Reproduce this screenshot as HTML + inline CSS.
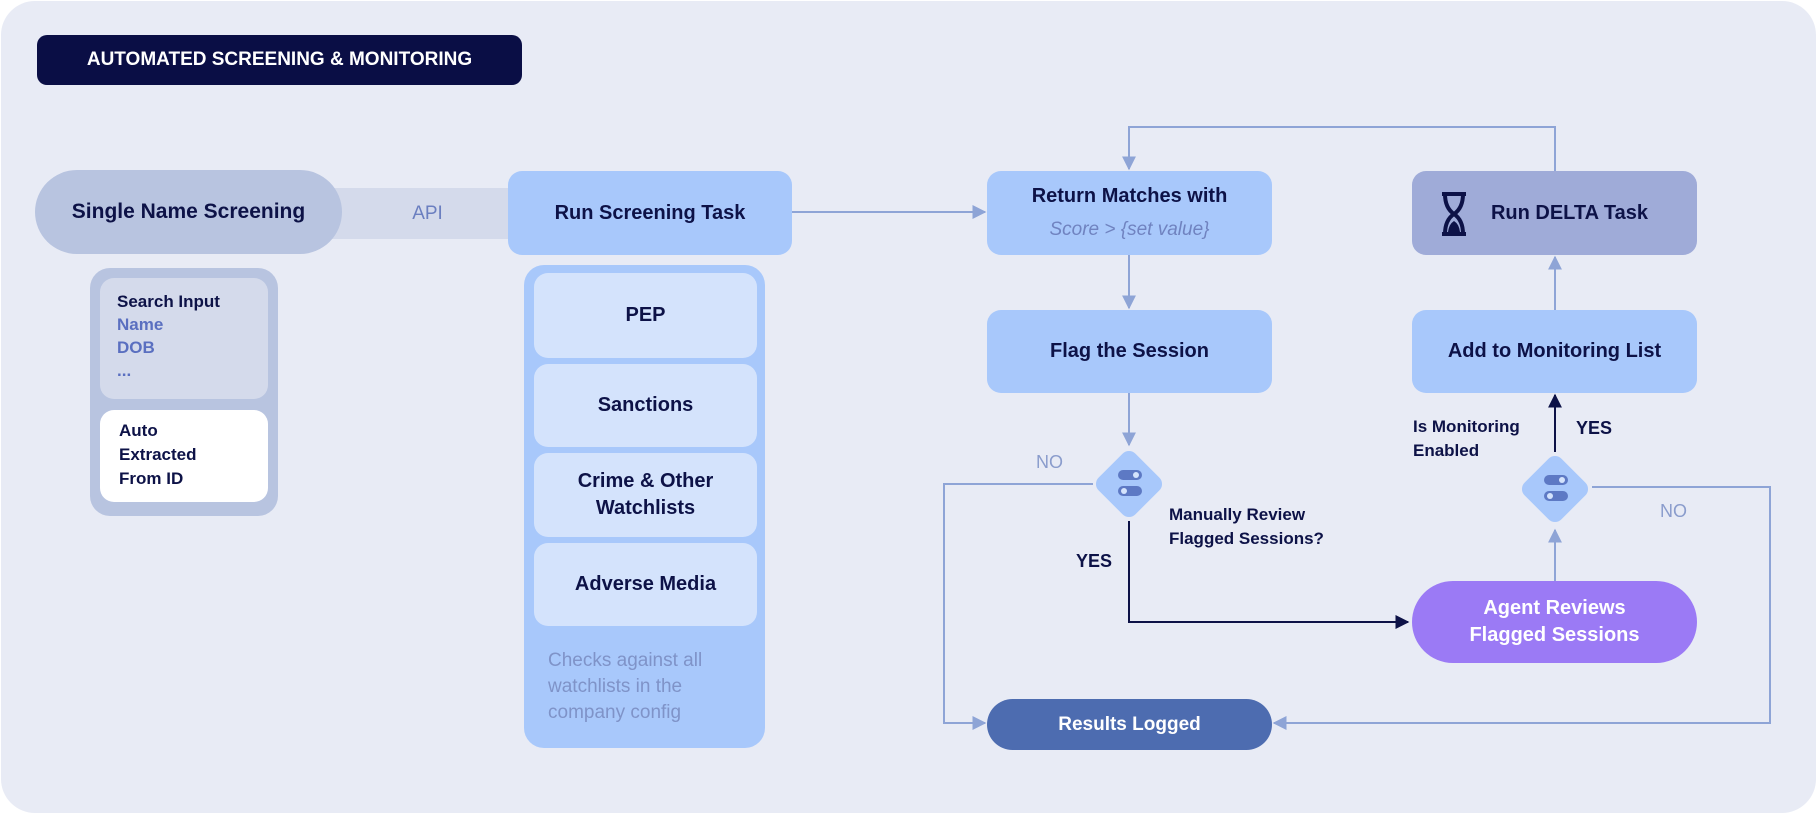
<!DOCTYPE html>
<html><head><meta charset="utf-8"><style>
*{margin:0;padding:0;box-sizing:border-box}
body{width:1818px;height:815px;background:#fff;position:relative;overflow:hidden;font-family:"Liberation Sans",sans-serif;font-weight:bold;color:#0d1247}
.card{position:absolute;left:1px;top:1px;width:1815px;height:812px;background:#e8ebf5;border-radius:34px}
.a{position:absolute}
.box{position:absolute;display:flex;align-items:center;justify-content:center;text-align:center;border-radius:14px;background:#a8c8fb;font-size:20px}
svg{position:absolute;left:0;top:0}
</style></head><body>
<div class="card"></div>
<div class="box" style="left:37px;top:35px;width:485px;height:50px;background:#0a0e45;color:#fff;font-size:19px;border-radius:10px">AUTOMATED SCREENING &amp; MONITORING</div>

<div class="a" style="left:330px;top:188px;width:190px;height:51px;background:#d4daeb"></div>
<div class="a" style="left:405px;top:200px;width:45px;color:#6b7fc0;font-size:19px;font-weight:normal;text-align:center;line-height:28px">API</div>
<div class="box" style="left:35px;top:170px;width:307px;height:84px;border-radius:42px;background:#b8c4e0;font-size:21px">Single Name Screening</div>
<div class="box" style="left:508px;top:171px;width:284px;height:84px">Run Screening Task</div>

<div class="a" style="left:90px;top:268px;width:188px;height:248px;background:#b8c4e0;border-radius:20px"></div>
<div class="a" style="left:100px;top:278px;width:168px;height:121px;background:#d4daeb;border-radius:14px;padding:12px 0 0 17px;font-size:17px;line-height:23px">Search Input<br><span style="color:#5a6fc0">Name<br>DOB<br>...</span></div>
<div class="a" style="left:100px;top:410px;width:168px;height:92px;background:#fff;border-radius:14px;padding:9px 0 0 19px;font-size:17px;line-height:24px">Auto<br>Extracted<br>From ID</div>

<div class="a" style="left:524px;top:265px;width:241px;height:483px;background:#a8c8fb;border-radius:20px"></div>
<div class="box" style="left:534px;top:273px;width:223px;height:85px;background:#d4e3fc">PEP</div>
<div class="box" style="left:534px;top:364px;width:223px;height:83px;background:#d4e3fc">Sanctions</div>
<div class="box" style="left:534px;top:453px;width:223px;height:84px;background:#d4e3fc;line-height:27px">Crime &amp; Other<br>Watchlists</div>
<div class="box" style="left:534px;top:543px;width:223px;height:83px;background:#d4e3fc">Adverse Media</div>
<div class="a" style="left:548px;top:648px;font-size:19px;font-weight:normal;color:#7f93c8;line-height:26px">Checks against all<br>watchlists in the<br>company config</div>

<svg width="1818" height="815">
<defs>
<marker id="m" viewBox="0 0 10 10" refX="9" refY="5" markerWidth="7" markerHeight="7" orient="auto-start-reverse"><path d="M0,0L10,5L0,10z" fill="#8ea4d6"/></marker>
<marker id="d" viewBox="0 0 10 10" refX="9" refY="5" markerWidth="7" markerHeight="7" orient="auto-start-reverse"><path d="M0,0L10,5L0,10z" fill="#0d1247"/></marker>
</defs>
<g fill="none" stroke="#8ea4d6" stroke-width="2">
<path d="M792 212H985" marker-end="url(#m)"/>
<path d="M1555 171V127H1129V169" marker-end="url(#m)"/>
<path d="M1129 255V308" marker-end="url(#m)"/>
<path d="M1129 393V445" marker-end="url(#m)"/>
<path d="M1093 484H944V723H985" marker-end="url(#m)"/>
<path d="M1592 487H1770V723H1274" marker-end="url(#m)"/>
<path d="M1555 581V530" marker-end="url(#m)"/>
<path d="M1555 310V257" marker-end="url(#m)"/>
</g>
<g fill="none" stroke="#0d1247" stroke-width="2">
<path d="M1129 521V622H1408" marker-end="url(#d)"/>
<path d="M1555 452V395" marker-end="url(#d)"/>
</g>
<g fill="#a8c8fb">
<rect x="1103" y="458" width="52" height="52" rx="9" transform="rotate(45 1129 484)"/>
<rect x="1529" y="463" width="52" height="52" rx="9" transform="rotate(45 1555 489)"/>
</g>
<g fill="#5d79c4">
<rect x="1118" y="470" width="24" height="10" rx="5"/><rect x="1118" y="486" width="24" height="10" rx="5"/>
<rect x="1544" y="475" width="24" height="10" rx="5"/><rect x="1544" y="491" width="24" height="10" rx="5"/>
</g>
<g fill="#d4e3fc"><circle cx="1136" cy="475" r="3"/><circle cx="1124" cy="491" r="3"/><circle cx="1562" cy="480" r="3"/><circle cx="1550" cy="496" r="3"/></g>
</svg>

<div class="box" style="left:987px;top:171px;width:285px;height:84px;flex-direction:column;line-height:34px">Return Matches with<span style="font-weight:normal;font-style:italic;color:#7083c0;font-size:19px">Score &gt; {set value}</span></div>
<div class="box" style="left:1412px;top:171px;width:285px;height:84px;background:#9fabd8;padding-left:30px">Run DELTA Task</div>
<svg class="a" style="left:1440px;top:191px" width="28" height="46" viewBox="0 0 28 46"><path d="M2 3H26M2 43H26M5 3Q5 17 14 23Q5 29 5 43M23 3Q23 17 14 23Q23 29 23 43" fill="none" stroke="#0d1247" stroke-width="4"/><path d="M8 41Q9 33 14 30Q19 33 20 41z" fill="#0d1247"/></svg>
<div class="box" style="left:987px;top:310px;width:285px;height:83px">Flag the Session</div>
<div class="box" style="left:1412px;top:310px;width:285px;height:83px">Add to Monitoring List</div>
<div class="box" style="left:987px;top:699px;width:285px;height:51px;border-radius:26px;background:#4d6cb0;color:#fff;font-size:19px">Results Logged</div>
<div class="box" style="left:1412px;top:581px;width:285px;height:82px;border-radius:41px;background:#9b7af5;color:#fff;line-height:27px">Agent Reviews<br>Flagged Sessions</div>

<div class="a" style="left:1036px;top:452px;font-size:18px;font-weight:normal;color:#8a9ccc">NO</div>
<div class="a" style="left:1660px;top:501px;font-size:18px;font-weight:normal;color:#8a9ccc">NO</div>
<div class="a" style="left:1076px;top:551px;font-size:18px">YES</div>
<div class="a" style="left:1576px;top:418px;font-size:18px">YES</div>
<div class="a" style="left:1169px;top:503px;font-size:17px;line-height:24px">Manually Review<br>Flagged Sessions?</div>
<div class="a" style="left:1413px;top:415px;font-size:17px;line-height:24px">Is Monitoring<br>Enabled</div>
</body></html>
